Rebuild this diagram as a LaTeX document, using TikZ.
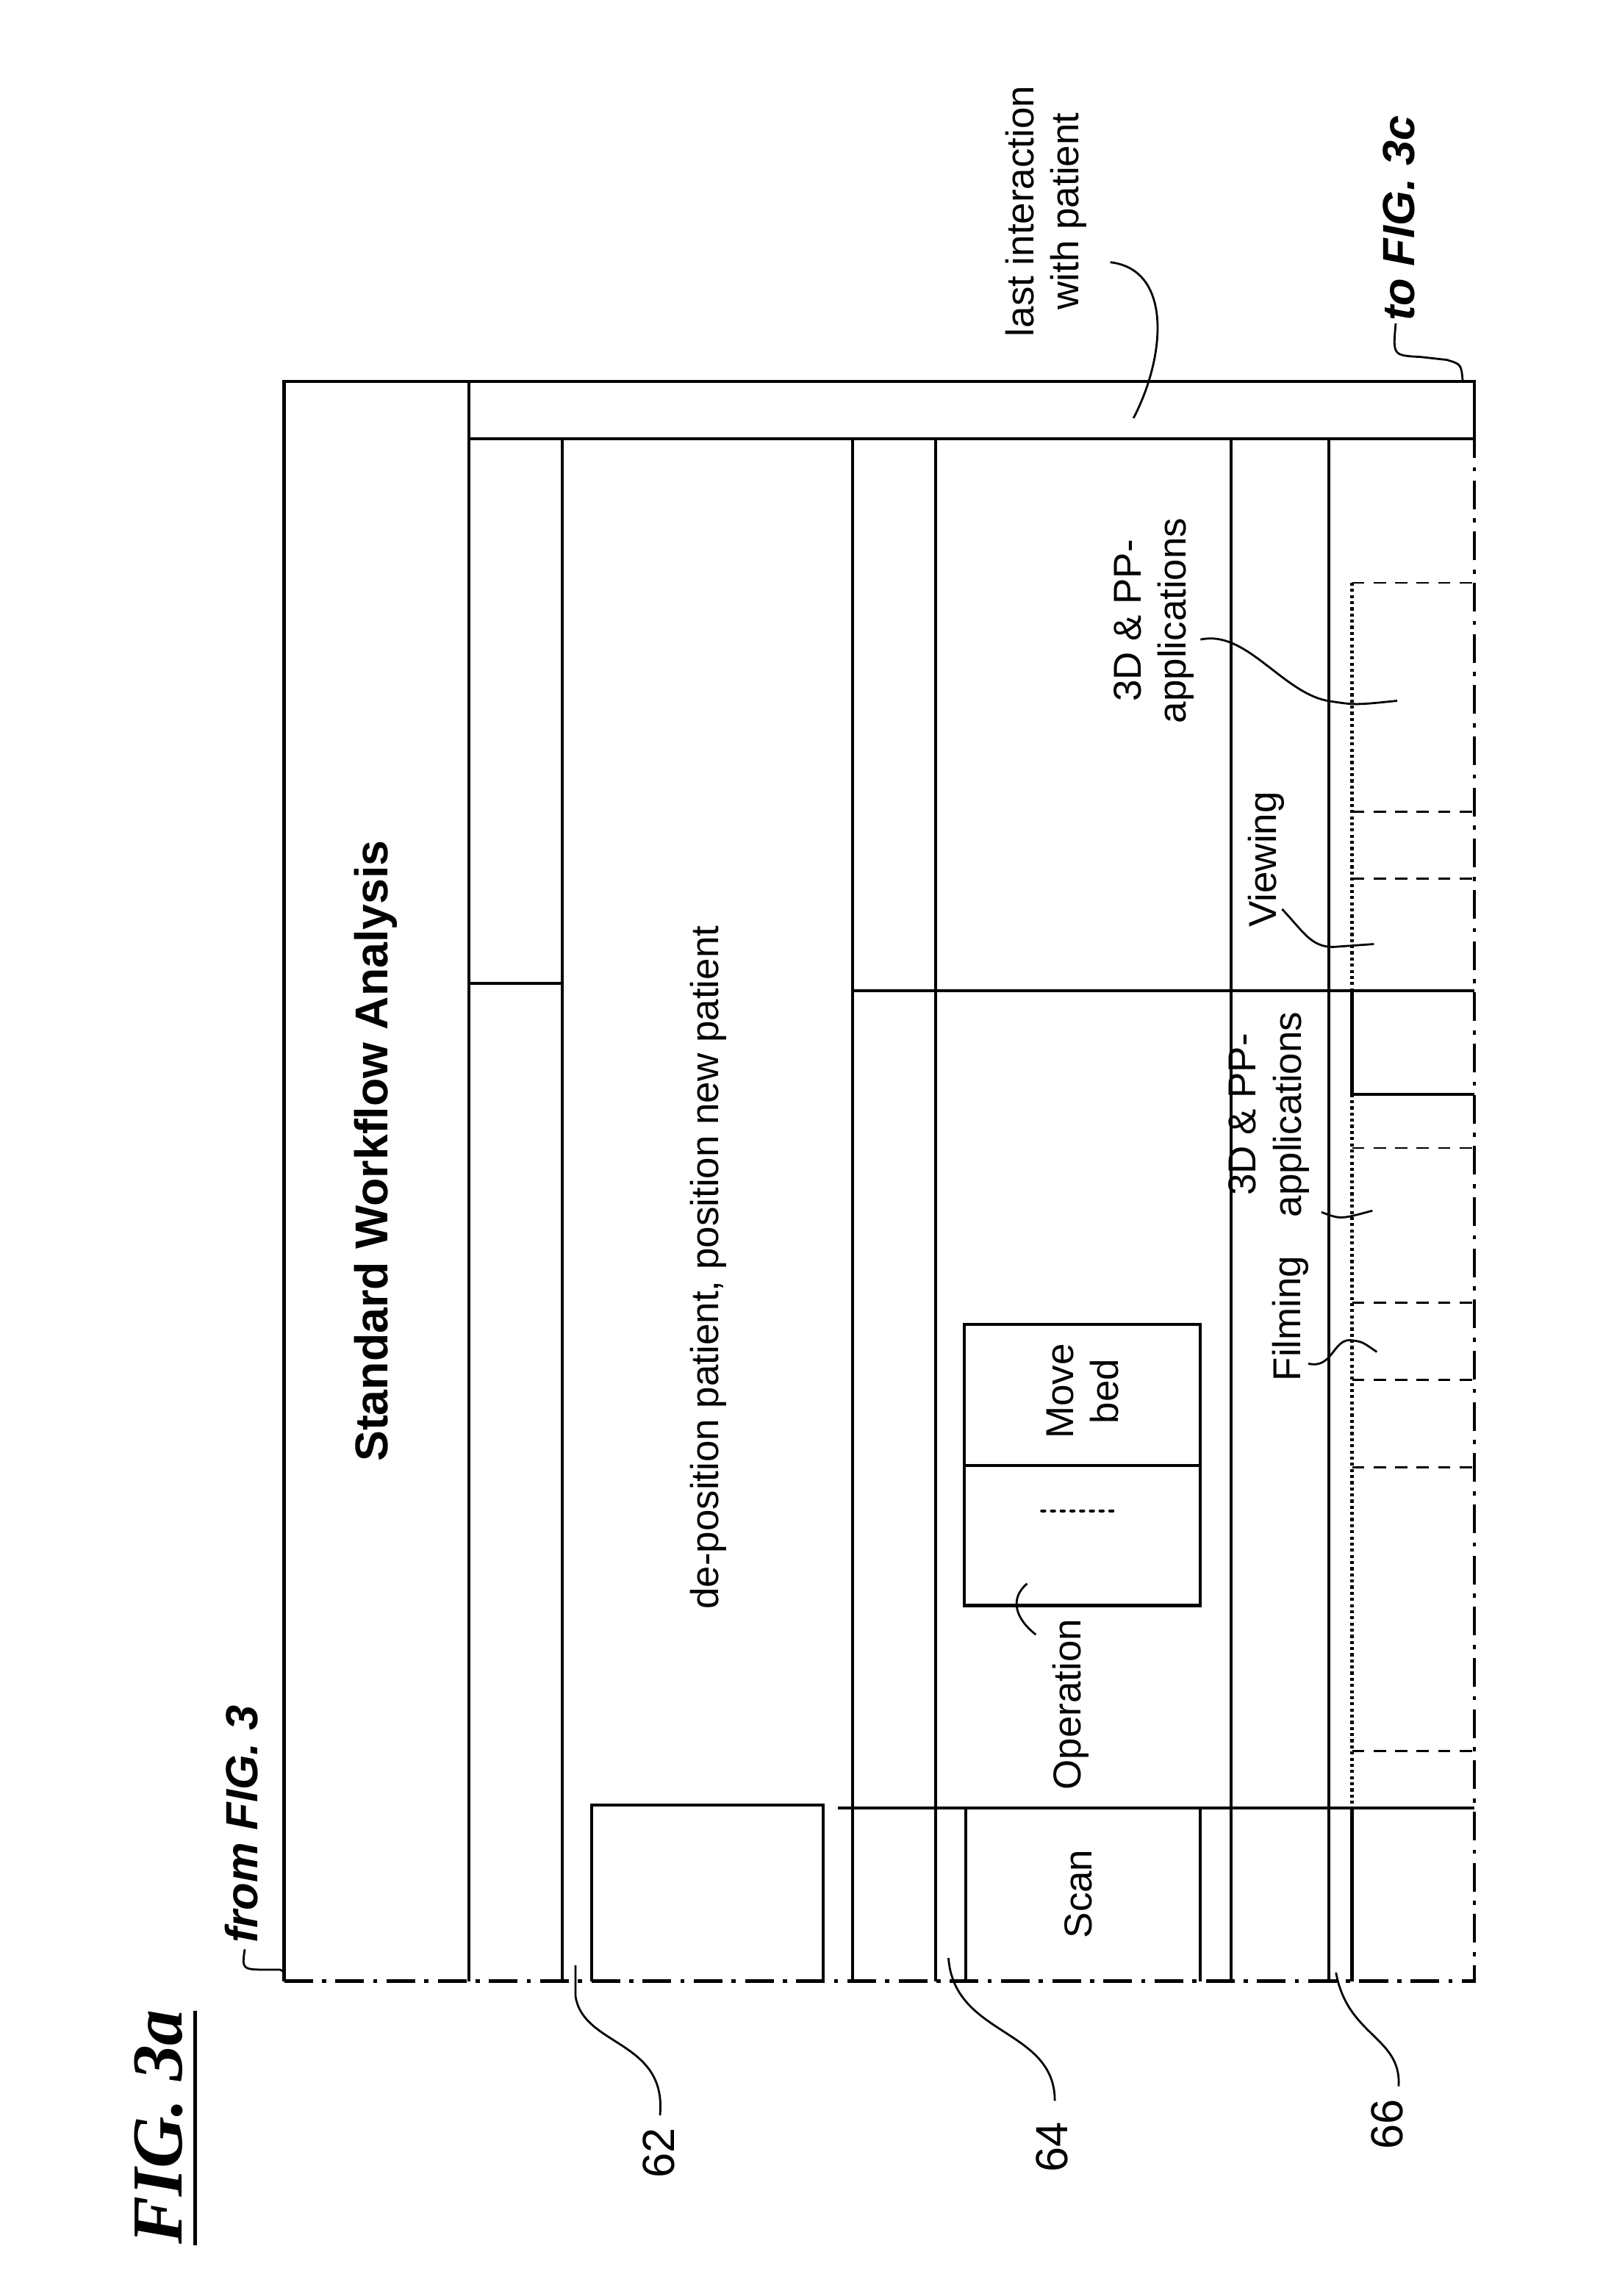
\documentclass[tikz,border=0pt]{standalone}
\usepackage{fontspec}
\setmainfont{Liberation Sans}
\newfontfamily\figfont{Liberation Serif}
\usetikzlibrary{positioning}
\tikzset{
  gridLine/.style = {line width=3pt},
  chainLine/.style = {line width=3.5pt, dash pattern=on 28pt off 9pt on 4pt off 9pt},
  slotLine/.style = {line width=2pt, dash pattern=on 12pt off 9pt},
  dotLine/.style = {line width=3pt, dash pattern=on 3pt off 3pt},
  leaderLine/.style = {line width=2pt},
  stepText/.style = {rotate=90, align=center, font=\fontsize{38}{44}\selectfont},
  refText/.style = {rotate=90, font=\fontsize{44}{50}\selectfont},
  linkText/.style = {rotate=90, font=\fontsize{44}{50}\selectfont\bfseries\itshape}
}
\begin{document}
\begin{tikzpicture}[x=0.05cm, y=-0.05cm]
  \useasboundingbox (0,0) rectangle (1100,1576);

  % outer frame
  \draw [gridLine] (1012,301) -- (1012,262) -- (195,262) -- (195,1360);
  \draw [chainLine] (195,1360) -- (1012,1360) -- (1012,301);
  \draw [gridLine] (322,301) -- (1012,301);
  \foreach \col in {322} \draw [gridLine] (\col,262) -- (\col,1360);
  \foreach \col in {386,585,642,845,912} \draw [gridLine] (\col,301) -- (\col,1360);
  \draw [gridLine] (322,675) -- (386,675);
  \draw [gridLine] (585,680) -- (1012,680);
  \draw [gridLine] (575,1241) -- (1012,1241);

  % boxes
  \draw [gridLine] (406,1360) -- (406,1239) -- (565,1239) -- (565,1360);
  \draw [gridLine] (663,1241) -- (663,1360);
  \draw [gridLine] (824,1241) -- (824,1360);
  \draw [gridLine] (662,909) rectangle (824,1102);
  \draw [gridLine] (662,1006) -- (824,1006);
  \draw [line width=3pt, dash pattern=on 3pt off 6.5pt, line cap=round] (715,1037) -- (767,1037);

  % slots
  \draw [dotLine] (928,400) -- (928,680);
  \draw [gridLine] (928,680) -- (928,751) -- (1012,751);
  \draw [dotLine] (928,751) -- (928,1241);
  \draw [gridLine] (928,1241) -- (928,1360);
  \foreach \row in {400,557,603,788,894,947,1007,1202} \draw [slotLine] (928,\row) -- (1012,\row);

  % texts
  \node [rotate=90, font=\fontsize{70}{80}\selectfont\figfont\bfseries\itshape] (figName) at (109,1460) {FIG. 3a};
  \draw [line width=4pt] (134,1380) -- (134,1541);
  \node [linkText] (fromFig) at (166,1252) {from FIG. 3};
  \node [linkText] (toFig) at (960,150) {to FIG. 3c};
  \node [rotate=90, font=\fontsize{45}{50}\selectfont\bfseries] (title) at (258,790) {Standard Workflow Analysis};
  \node [stepText] (deposition) at (486,870) {de-position patient, position new patient};
  \node [stepText] (lastInteraction) at (718,145) {last interaction\\with patient};
  \node [stepText] (appsUpper) at (792,426) {3D \& PP-\\applications};
  \node [stepText] (viewing) at (869,590) {Viewing};
  \node [stepText] (appsLower) at (871,765) {3D \& PP-\\applications};
  \node [stepText] (filming) at (886,905) {Filming};
  \node [stepText] (moveBed) at (743,955) {Move\\bed};
  \node [stepText] (operation) at (735,1170) {Operation};
  \node [stepText] (scan) at (740,1300) {Scan};
  \node [refText] (ref62) at (452,1478) {62};
  \node [refText] (ref64) at (722,1474) {64};
  \node [refText] (ref66) at (952,1458) {66};

  % leaders
  \draw [leaderLine] (168,1338) .. controls (166,1352) .. (185,1352) -- (192,1352) .. controls (195,1353) .. (195,1360);
  \draw [leaderLine] (958,222) .. controls (956,244) .. (975,245) -- (993,247) .. controls (1003,250) .. (1004,262);
  \draw [leaderLine] (762,180) .. controls (805,185) and (800,245) .. (778,287);
  \draw [leaderLine] (824,439) .. controls (855,432) and (880,475) .. (911,481) .. controls (930,484) .. (959,481);
  \draw [leaderLine] (880,624) .. controls (895,640) and (900,650) .. (915,650) -- (943,648);
  \draw [leaderLine] (907,832) .. controls (920,837) .. (942,831);
  \draw [leaderLine] (898,936) .. controls (915,940) and (915,918) .. (928,920) .. controls (935,921) .. (945,928);
  \draw [leaderLine] (705,1087) .. controls (692,1098) and (698,1112) .. (711,1122);
  \draw [leaderLine] (395,1349) -- (395,1370) .. controls (400,1405) and (458,1400) .. (453,1452);
  \draw [leaderLine] (651,1344) .. controls (655,1398) and (724,1392) .. (724,1442);
  \draw [leaderLine] (917,1354) .. controls (925,1398) and (962,1398) .. (960,1432);
\end{tikzpicture}
\end{document}
